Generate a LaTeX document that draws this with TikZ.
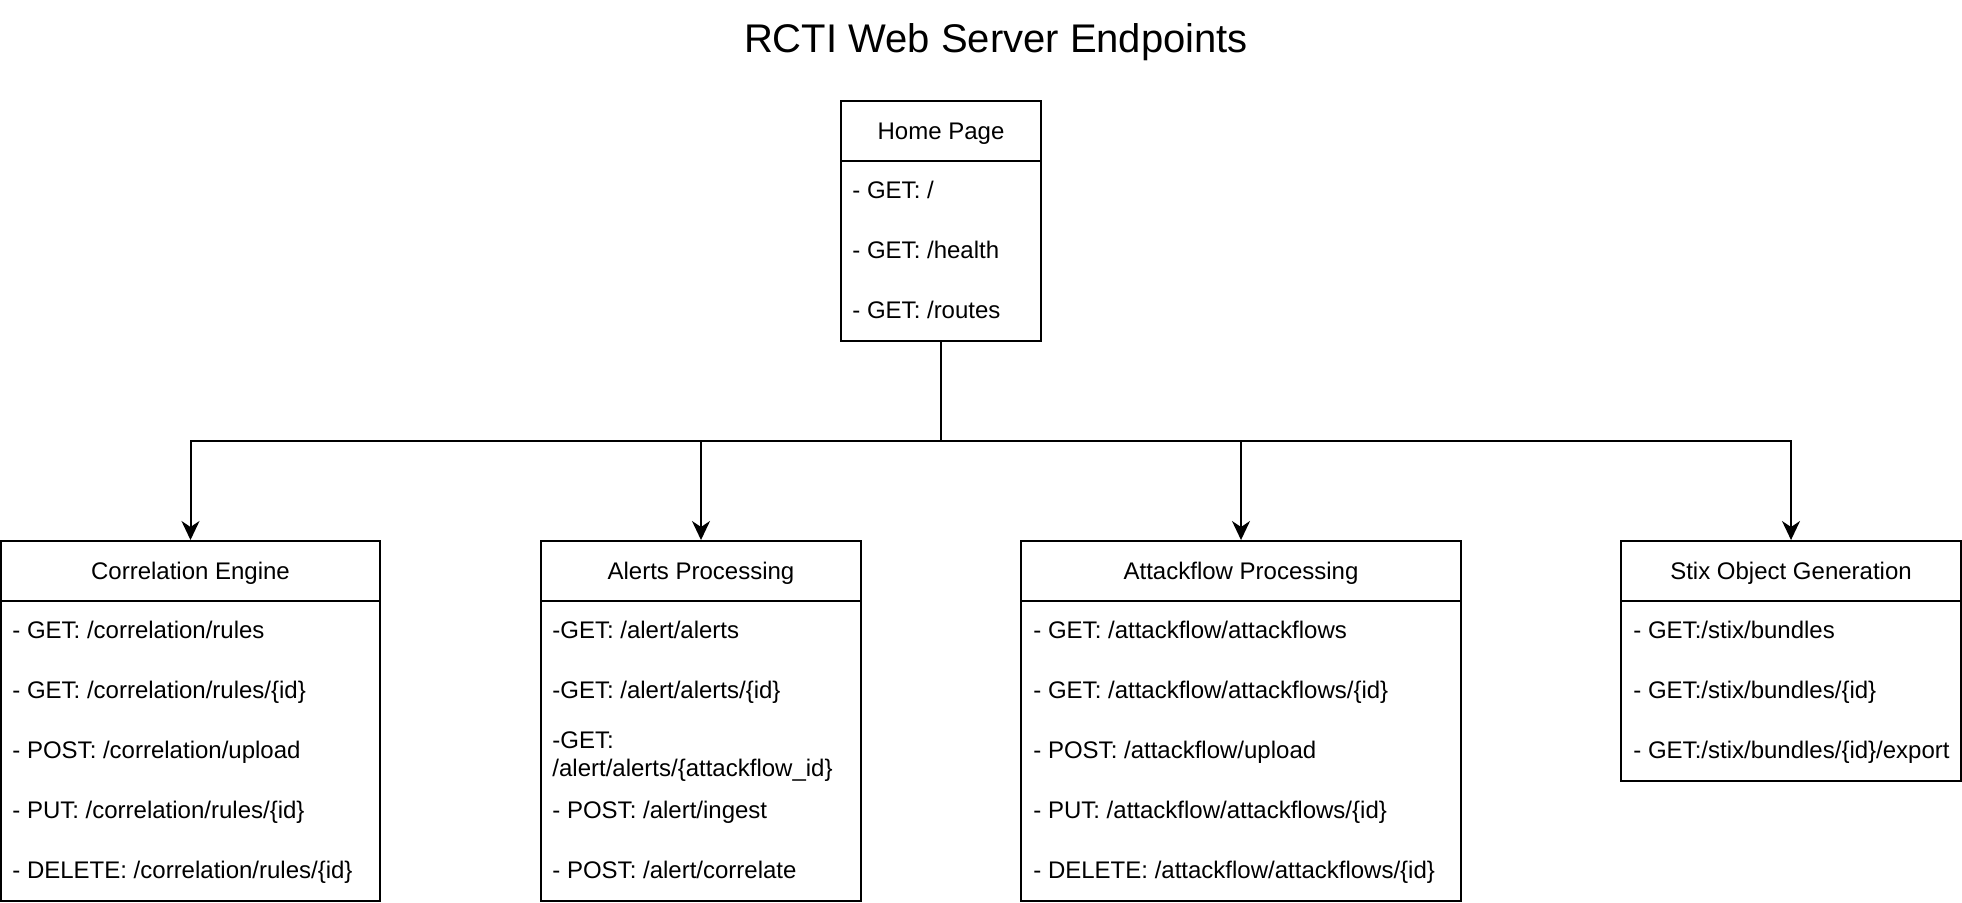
\documentclass[tikz,border=0pt]{standalone}
\usepackage{fontspec}
\setmainfont{Liberation Sans}
\usetikzlibrary{arrows.meta,fit,calc}
\begin{document}
\begin{tikzpicture}[x=0.5pt,y=-0.5pt,
  box/.style={draw, line width=1pt, inner sep=0pt},
  divline/.style={line width=1pt},
  hdr/.style={anchor=base, inner sep=0pt, font=\fontsize{12}{14}\selectfont},
  row/.style={anchor=base west, inner sep=0pt, font=\fontsize{12}{14}\selectfont},
  ttl/.style={anchor=base, inner sep=0pt, font=\fontsize{20}{24}\selectfont},
  conn/.style={line width=1pt, -{Stealth[length=9.5pt,width=9pt,inset=3pt]}}
]
\useasboundingbox (0,0) rectangle (1962,902);

% title
\node[ttl] (title) at (996,52) {RCTI Web Server Endpoints};

% Home Page
\node[box, fit={(841,101) (1041,341)}] (home) {};
\draw[divline] (home.west |- 0,161) -- (home.east |- 0,161);
\node[hdr] (home-t) at (941,139.5) {Home Page};
\node[row] (home-r1) at (852,198.5) {- GET: /};
\node[row] (home-r2) at (852,258.5) {- GET: /health};
\node[row] (home-r3) at (852,318.5) {- GET: /routes};

% Correlation Engine
\node[box, fit={(1,541) (380,901)}] (ce) {};
\draw[divline] (ce.west |- 0,601) -- (ce.east |- 0,601);
\node[hdr] (ce-t) at (190.5,579.5) {Correlation Engine};
\node[row] (ce-r1) at (12,638.5) {- GET: /correlation/rules};
\node[row] (ce-r2) at (12,698.5) {- GET: /correlation/rules/\{id\}};
\node[row] (ce-r3) at (12,758.5) {- POST: /correlation/upload};
\node[row] (ce-r4) at (12,818.5) {- PUT: /correlation/rules/\{id\}};
\node[row] (ce-r5) at (12,878.5) {- DELETE: /correlation/rules/\{id\}};

% Alerts Processing
\node[box, fit={(541,541) (861,901)}] (ap) {};
\draw[divline] (ap.west |- 0,601) -- (ap.east |- 0,601);
\node[hdr] (ap-t) at (701,579.5) {Alerts Processing};
\node[row] (ap-r1) at (552,638.5) {-GET: /alert/alerts};
\node[row] (ap-r2) at (552,698.5) {-GET: /alert/alerts/\{id\}};
\node[row] (ap-r3a) at (552,748) {-GET:};
\node[row] (ap-r3b) at (552,776) {/alert/alerts/\{attackflow\_id\}};
\node[row] (ap-r4) at (552,818.5) {- POST: /alert/ingest};
\node[row] (ap-r5) at (552,878.5) {- POST: /alert/correlate};

% Attackflow Processing
\node[box, fit={(1021,541) (1461,901)}] (af) {};
\draw[divline] (af.west |- 0,601) -- (af.east |- 0,601);
\node[hdr] (af-t) at (1241,579.5) {Attackflow Processing};
\node[row] (af-r1) at (1033,638.5) {- GET: /attackflow/attackflows};
\node[row] (af-r2) at (1033,698.5) {- GET: /attackflow/attackflows/\{id\}};
\node[row] (af-r3) at (1033,758.5) {- POST: /attackflow/upload};
\node[row] (af-r4) at (1033,818.5) {- PUT: /attackflow/attackflows/\{id\}};
\node[row] (af-r5) at (1033,878.5) {- DELETE: /attackflow/attackflows/\{id\}};

% Stix Object Generation
\node[box, fit={(1621,541) (1961,781)}] (sx) {};
\draw[divline] (sx.west |- 0,601) -- (sx.east |- 0,601);
\node[hdr] (sx-t) at (1791,579.5) {Stix Object Generation};
\node[row] (sx-r1) at (1633,638.5) {- GET:/stix/bundles};
\node[row] (sx-r2) at (1633,698.5) {- GET:/stix/bundles/\{id\}};
\node[row] (sx-r3) at (1633,758.5) {- GET:/stix/bundles/\{id\}/export};

% connectors
\coordinate (bus) at (941,441);
\draw[conn] (home.south) -- (home.south |- bus) -| (ce.north);
\draw[conn] (home.south) -- (home.south |- bus) -| (ap.north);
\draw[conn] (home.south) -- (home.south |- bus) -| (af.north);
\draw[conn] (home.south) -- (home.south |- bus) -| (sx.north);
\end{tikzpicture}
\end{document}
